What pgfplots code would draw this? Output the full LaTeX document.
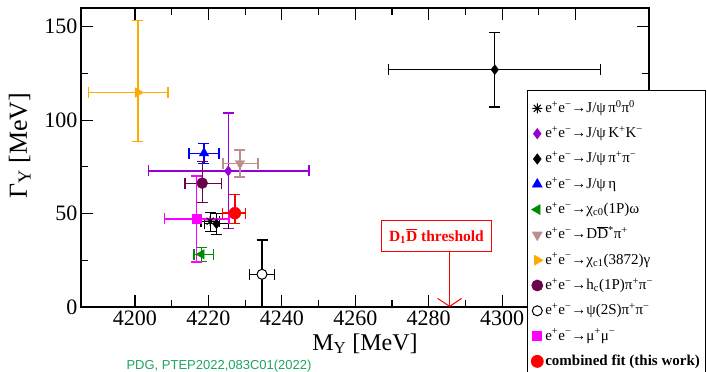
\documentclass[border=0pt]{standalone}
\usepackage{pgfplots}
\pgfplotsset{compat=1.18}
\usetikzlibrary{arrows.meta}
\usepackage{fontspec}
\setmainfont{Liberation Serif}
\newfontfamily\sansf{Liberation Sans}
\definecolor{corange}{RGB}{255,170,0}
\definecolor{cpurple}{RGB}{150,0,210}
\definecolor{cbrown}{RGB}{188,143,143}
\definecolor{cmaroon}{RGB}{105,5,75}
\definecolor{cgreen}{RGB}{0,140,0}
\definecolor{cmag}{RGB}{255,0,255}
\definecolor{cred}{RGB}{255,0,0}
\definecolor{cblue}{RGB}{0,0,255}
\definecolor{cpdg}{RGB}{30,165,95}
\pgfdeclareplotmark{ast8}{%
  \pgfpathmoveto{\pgfqpoint{0pt}{\pgfplotmarksize}}\pgfpathlineto{\pgfqpoint{0pt}{-\pgfplotmarksize}}%
  \pgfpathmoveto{\pgfqpoint{\pgfplotmarksize}{0pt}}\pgfpathlineto{\pgfqpoint{-\pgfplotmarksize}{0pt}}%
  \pgfpathmoveto{\pgfqpoint{0.707\pgfplotmarksize}{0.707\pgfplotmarksize}}\pgfpathlineto{\pgfqpoint{-0.707\pgfplotmarksize}{-0.707\pgfplotmarksize}}%
  \pgfpathmoveto{\pgfqpoint{-0.707\pgfplotmarksize}{0.707\pgfplotmarksize}}\pgfpathlineto{\pgfqpoint{0.707\pgfplotmarksize}{-0.707\pgfplotmarksize}}%
  \pgfusepathqstroke}
\begin{document}
\begin{tikzpicture}
\path[use as bounding box] (-81pt,-65pt) rectangle (626pt,307pt);
\begin{axis}[
  scale only axis, width=568pt, height=299pt,
  xmin=4185.3, xmax=4340, ymin=0, ymax=160,
  xtick={4200,4220,...,4320}, minor x tick num=1,
  xticklabels={4200,4220,4240,4260,4280,4300,{}},
  ytick={0,50,100,150}, minor y tick num=1,
  tick align=inside, major tick length=12pt, minor tick length=7pt,
  axis line style={line width=1.6pt},
  every tick/.style={line width=1.2pt, black},
  tick label style={font=\fontsize{22}{22}\selectfont},
  /pgf/number format/assume math mode=true,
  /pgf/number format/set thousands separator={},
  xlabel={M\textsubscript{Y} [MeV]}, ylabel={Γ\textsubscript{Y} [MeV]},
  xlabel style={font=\fontsize{24}{24}\selectfont, at={(axis description cs:0.5,-0.144)}, anchor=base},
  ylabel style={font=\fontsize{26}{26}\selectfont, at={(axis description cs:-0.108,0.54)}, anchor=center},
  clip=false,
  legend style={at={(0.785,0.7258)}, anchor=north west, draw=black, line width=0.8pt, fill=white,
    font=\fontsize{15}{15}\selectfont, inner xsep=4pt, inner ysep=8pt, row sep=5.3pt,
    nodes={inner sep=2pt, text height=12pt, text depth=4pt}},
  legend cell align=left,
  legend image code/.code={\draw[mark repeat=2, mark phase=2, #1] plot coordinates {(0pt,0pt)(6pt,0pt)(15pt,0pt)};},
  error bars/x dir=both, error bars/x explicit,
  error bars/y dir=both, error bars/y explicit,
  error bars/error bar style={line width=1.2pt},
  error bars/error mark options={rotate=90, mark size=5.5pt, line width=1.2pt},
]
% J/psi pi0 pi0
\addplot[only marks, black, mark=ast8, mark size=5pt, mark options={line width=1pt},
  error bars/error bar style={black, line width=1.2pt}]
  coordinates {(4220.5,45.9) += (2.5,4.8) -= (2.5,5.6)};
\addlegendentry{e\textsuperscript{+}e\textsuperscript{−}→J/ψ\,π\textsuperscript{0}π\textsuperscript{0}}
% J/psi K+ K-
\addplot[only marks, cpurple, mark=diamond*, mark size=5pt,
  error bars/error bar style={cpurple, line width=1.2pt}]
  coordinates {(4225.4,72.8) += (22.0,31.0) -= (21.8,30.6)};
\addlegendentry{e\textsuperscript{+}e\textsuperscript{−}→J/ψ\,K\textsuperscript{+}K\textsuperscript{−}}
% J/psi pi+ pi-
\addplot[only marks, black, mark=diamond*, mark size=5pt,
  error bars/error bar style={black, line width=1.2pt}]
  coordinates {(4222.2,44.5) += (3.2,5.5) -= (3.2,5.5)
               (4298.0,127.0) += (28.7,20.0) -= (28.9,20.0)};
\addlegendentry{e\textsuperscript{+}e\textsuperscript{−}→J/ψ\,π\textsuperscript{+}π\textsuperscript{−}}
% J/psi eta
\addplot[only marks, cblue, mark=triangle*, mark size=5.5pt,
  error bars/error bar style={cblue, line width=1.2pt}]
  coordinates {(4218.8,82.3) += (4.1,5.4) -= (4.1,5.3)};
\addlegendentry{e\textsuperscript{+}e\textsuperscript{−}→J/ψ\,η}
% chi_c0 omega
\addplot[only marks, cgreen, mark=triangle*, mark size=5.5pt, mark options={rotate=90},
  error bars/error bar style={cgreen, line width=1.2pt}]
  coordinates {(4218.1,28.2) += (3.2,3.8) -= (2.0,3.8)};
\addlegendentry{e\textsuperscript{+}e\textsuperscript{−}→χ\textsubscript{c0}(1P)ω}
% D Dbar* pi
\addplot[only marks, cbrown, mark=triangle*, mark size=5.5pt, mark options={rotate=180},
  error bars/error bar style={cbrown, line width=1.2pt}]
  coordinates {(4228.6,76.8) += (4.9,7.2) -= (4.6,7.2)};
\addlegendentry{e\textsuperscript{+}e\textsuperscript{−}→D$\overline{\mbox{D}}$\textsuperscript{*}π\textsuperscript{+}}
% chi_c1(3872) gamma
\addplot[only marks, corange, mark=triangle*, mark size=5.5pt, mark options={rotate=-90},
  error bars/error bar style={corange, line width=1.2pt}]
  coordinates {(4200.8,114.8) += (8.2,38.4) -= (13.5,26.3)};
\addlegendentry{e\textsuperscript{+}e\textsuperscript{−}→χ\textsubscript{c1}(3872)γ}
% h_c pi pi
\addplot[only marks, cmaroon, mark=*, mark size=5.5pt,
  error bars/error bar style={cmaroon, line width=1.2pt}]
  coordinates {(4218.3,66.3) += (5.3,11.5) -= (4.7,10.5)};
\addlegendentry{e\textsuperscript{+}e\textsuperscript{−}→h\textsubscript{c}(1P)π\textsuperscript{+}π\textsuperscript{−}}
% psi(2S) pi pi
\addplot[only marks, black, mark=*, mark size=5pt, mark options={fill=white, draw=black, line width=1pt},
  error bars/error bar style={black, line width=1.2pt}]
  coordinates {(4234.6,17.5) += (3.3,18.4) -= (3.3,17.5)};
\addlegendentry{e\textsuperscript{+}e\textsuperscript{−}→ψ(2S)π\textsuperscript{+}π\textsuperscript{−}}
% mu mu
\addplot[only marks, cmag, mark=square*, mark size=4.5pt,
  error bars/error bar style={cmag, line width=1.2pt}]
  coordinates {(4216.8,47.1) += (8.8,23.0) -= (8.8,23.0)};
\addlegendentry{e\textsuperscript{+}e\textsuperscript{−}→μ\textsuperscript{+}μ\textsuperscript{−}}
% combined fit
\addplot[only marks, cred, mark=*, mark size=6pt,
  error bars/error bar style={cred, line width=1.5pt}]
  coordinates {(4227.2,50.2) += (3.0,10.0) -= (3.3,5.5)};
\addlegendentry{\textbf{combined fit (this work)}}
% threshold annotation
\node[draw=cred, line width=1pt, text=cred, font=\fontsize{15.5}{15.5}\selectfont\bfseries,
  minimum width=110pt, minimum height=31pt, inner sep=2pt]
  at (axis cs:4282.1,37.9) {D\textsubscript{1}$\overline{\mbox{D}}$ threshold};
\draw[cred, line width=1pt, -{Straight Barb[length=8pt,width=24pt]}] (axis cs:4285.7,29.6) -- (axis cs:4285.7,0);
\node[text=cpdg, font=\sansf\fontsize{13}{13}\selectfont] at (axis description cs:0.243,-0.197) {PDG, PTEP2022,083C01(2022)};
\end{axis}
\end{tikzpicture}
\end{document}
